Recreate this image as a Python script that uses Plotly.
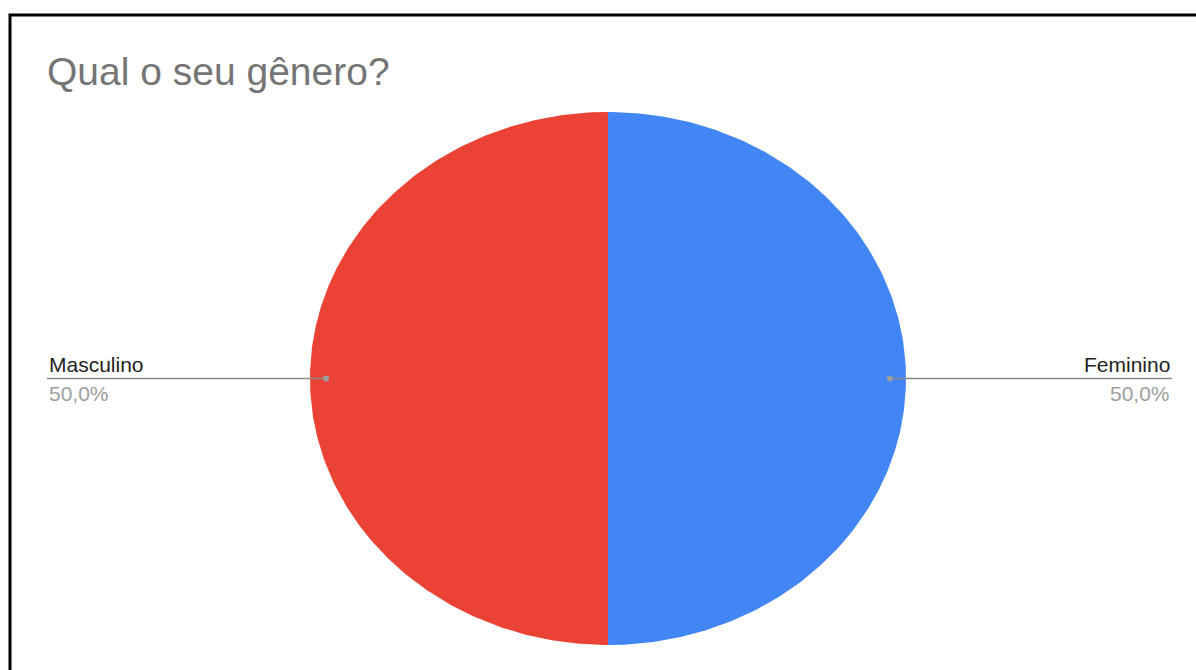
import numpy as np
import plotly.graph_objects as go

# ---- data ----
title_text = "Qual o seu gênero?"
labels = ["Feminino", "Masculino"]
values = [50, 50]
colors = ["#4285f4", "#ea4335"]

# ---- layout geometry (pixels) ----
W, H = 1196, 670
CX, CY, RX, RY = 608, 378.5, 298, 266.5
LABEL_LEFT_PX, LABEL_RIGHT_PX = 47, 1172
DOT_R = 0.946

# axis ranges so that the unit circle maps to the pie ellipse
xr = [(0 - CX) / RX, (W - CX) / RX]
yr = [(CY - H) / RY, (CY - 0) / RY]

fig = go.Figure()

total = float(sum(values))
cum = 0.0
for lab, val, col in zip(labels, values, colors):
    a0 = cum / total * 2 * np.pi
    a1 = (cum + val) / total * 2 * np.pi
    cum += val
    th = np.linspace(a0, a1, 240)
    xs = np.concatenate([[0], np.sin(th), [0]])
    ys = np.concatenate([[0], np.cos(th), [0]])
    fig.add_trace(go.Scatter(x=xs, y=ys, fill="toself", fillcolor=col,
                             mode="lines", line=dict(width=0, color=col),
                             hoverinfo="text", text=lab, showlegend=False))
    mid = (a0 + a1) / 2
    dx, dy = np.sin(mid), np.cos(mid)
    side = 1 if dx >= 0 else -1
    end_x = ((LABEL_RIGHT_PX if side > 0 else LABEL_LEFT_PX) - CX) / RX
    # leader line
    fig.add_trace(go.Scatter(x=[DOT_R * dx, end_x], y=[DOT_R * dy, DOT_R * dy],
                             mode="lines", line=dict(color="#8a8a8a", width=1.6),
                             hoverinfo="skip", showlegend=False))
    fig.add_trace(go.Scatter(x=[DOT_R * dx], y=[DOT_R * dy], mode="markers",
                             marker=dict(color="#9e9e9e", size=6),
                             hoverinfo="skip", showlegend=False))
    anchor = "right" if side > 0 else "left"
    fig.add_annotation(x=end_x, y=DOT_R * dy, xref="x", yref="y",
                       text=lab, showarrow=False, xanchor=anchor, yanchor="bottom",
                       yshift=1, font=dict(family="Arial", size=21, color="#222222"))
    fig.add_annotation(x=end_x, y=DOT_R * dy, xref="x", yref="y",
                       text=f"{val / total * 100:.1f}%".replace(".", ","),
                       showarrow=False, xanchor=anchor, yanchor="top",
                       yshift=-1, font=dict(family="Arial", size=21, color="#9e9e9e"))

# outer border
fig.add_shape(type="rect", xref="paper", yref="paper",
              x0=10 / W, x1=1.02, y0=-0.02, y1=1 - 15 / H,
              line=dict(color="black", width=3), fillcolor="rgba(0,0,0,0)")

fig.update_layout(
    width=W, height=H,
    margin=dict(l=0, r=0, t=0, b=0),
    paper_bgcolor="white", plot_bgcolor="white",
    title=dict(text=title_text, x=LABEL_LEFT_PX / W, xanchor="left", xref="paper",
               y=1 - 71 / H, yanchor="middle", yref="paper",
               font=dict(family="Arial", size=39, color="#757575")),
    xaxis=dict(range=xr, visible=False, domain=[0, 1], fixedrange=True),
    yaxis=dict(range=yr, visible=False, domain=[0, 1], fixedrange=True),
    showlegend=False,
)

fig.write_html("out.html")
